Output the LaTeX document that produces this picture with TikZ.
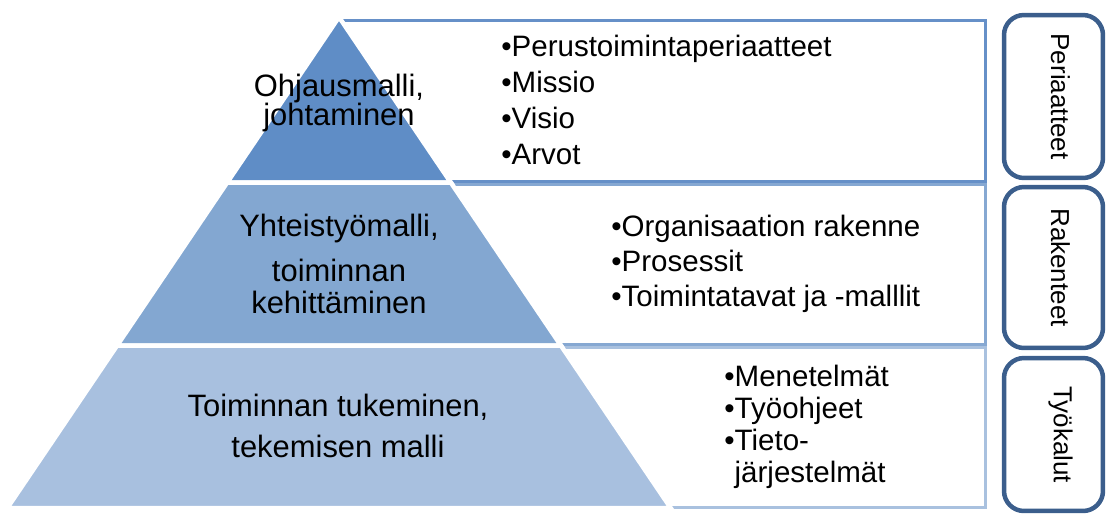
\documentclass[tikz,border=0pt]{standalone}
\usepackage{fontspec}
\setmainfont{Liberation Sans}
\usepackage{tikz}
\usepackage{xcolor}
\usetikzlibrary{positioning,calc}
\definecolor{tierone}  {HTML}{5F8DC6}
\definecolor{tiertwo}  {HTML}{83A7D1}
\definecolor{tierthree}{HTML}{A8C0DF}
\definecolor{frameone} {HTML}{6690C8}
\definecolor{frametwo} {HTML}{86A8D2}
\definecolor{framethree}{HTML}{A9C1DF}
\definecolor{tabblue}  {HTML}{3B5E8C}
\tikzset{
  tier/.style      ={draw=white, line width=0.09cm, line join=miter},
  listframe/.style ={draw=#1, fill=white, line width=0.06cm},
  tiertext/.style  ={align=center, inner sep=0pt},
  listtext/.style  ={align=left, anchor=west, inner sep=0pt},
  tabbox/.style    ={draw=tabblue, fill=white, line width=0.09cm, rounded corners=0.4cm,
                     minimum width=1.98cm, inner sep=0pt},
  tablabel/.style  ={rotate=-90, inner sep=0pt, font=\fontsize{14.8}{16}\selectfont},
}

\begin{document}
\begin{tikzpicture}[x=0.02cm,y=-0.02cm]
    \useasboundingbox (0,0) rectangle (1107,515);
    % list frames behind the pyramid
    \draw[listframe=frameone]   (339,20)  rectangle (985,181);
    \draw[listframe=frametwo]   (339,184) rectangle (985,344);
    \draw[listframe=framethree] (339,347) rectangle (985,507);
    % pyramid tiers
    \coordinate (apex) at (339,17);
    \coordinate (onel) at (227.2,182.5);   \coordinate (oner) at (450.8,182.5);
    \coordinate (twol) at (117.1,345.5);   \coordinate (twor) at (560.9,345.5);
    \coordinate (threel) at (7.3,508);     \coordinate (threer) at (670.7,508);
    \draw[tier, fill=tierone]   (apex) -- (oner) -- (onel) -- cycle;
    \draw[tier, fill=tiertwo]   (onel) -- (oner) -- (twor) -- (twol) -- cycle;
    \draw[tier, fill=tierthree] (twol) -- (twor) -- (threer) -- (threel) -- cycle;
    % tier labels
    \node[tiertext, font=\fontsize{17.6}{17}\selectfont] (ohjaus) at (339,103)
      {Ohjausmalli,\\johtaminen};
    \node[tiertext, font=\fontsize{17.6}{18.1}\selectfont] (yhteistyo) at (339,264)
      {Yhteistyömalli,\\[7.4pt]toiminnan\\kehittäminen};
    \node[tiertext, font=\fontsize{17.6}{23.8}\selectfont] (tukeminen) at (338,426)
      {Toiminnan tukeminen,\\tekemisen malli};
    % lists
    \node[listtext, font=\fontsize{16.8}{20.4}\selectfont] (periaatelista) at (501,100)
      {•Perustoimintaperiaatteet\\•Missio\\•Visio\\•Arvot};
    \node[listtext, font=\fontsize{16.8}{20.1}\selectfont] (rakennelista) at (611,264)
      {•Organisaation rakenne\\•Prosessit\\•Toimintatavat ja -malllit};
    \node[listtext, font=\fontsize{16.8}{18.3}\selectfont] (tyokalulista) at (724,427)
      {•Menetelmät\\•Työohjeet\\•Tieto-\\\hphantom{•}järjestelmät};
    % side tabs
    \node[tabbox, minimum height=3.26cm] (periaatteet) at (1053.5,96.5) {};
    \node[tabbox, minimum height=3.22cm] (rakenteet)   at (1053.5,267.5) {};
    \node[tabbox, minimum height=3.06cm] (tyokalut)    at (1053.5,434.5) {};
    \node[tablabel] at ([xshift=0.14cm]periaatteet.center) {Periaatteet};
    \node[tablabel] at ([xshift=0.14cm]rakenteet.center)   {Rakenteet};
    \node[tablabel] at ([xshift=0.14cm]tyokalut.center)    {Työkalut};
  \end{tikzpicture}
\end{document}
